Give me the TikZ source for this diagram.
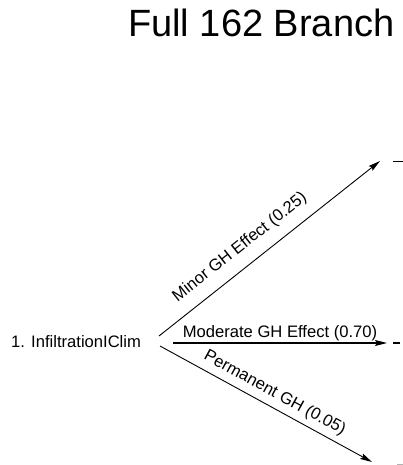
\documentclass[tikz,border=0pt]{standalone}
\usepackage{fontspec}
\setmainfont{Liberation Sans}
\usetikzlibrary{arrows.meta}
\begin{document}
\begin{tikzpicture}[x=1pt,y=-1pt,
  lbl/.style={font=\fontsize{16.6}{20}\selectfont, inner sep=0pt},
  branch/.style={line width=0.9pt, -{Stealth[length=12pt,width=6pt,inset=2pt]}},
  stub/.style={line width=1pt}]
\useasboundingbox (0,0) rectangle (403,465);
\node[anchor=base west, inner sep=0pt, font=\fontsize{38}{44}\selectfont] (title) at (128,37) {Full 162 Branch};
\node[anchor=base west, lbl] (root) at (11,347) {1. InfiltrationIClim};
% branch origins and tips
\coordinate (o1) at (159,336);
\coordinate (o2) at (173,343);
\coordinate (o3) at (160,346);
\coordinate (t1) at (380,161);
\coordinate (t2) at (387,343);
\coordinate (t3) at (372,462);
% cut-off stubs at the right edge
\coordinate (s1a) at (393,161);
\coordinate (s1b) at (403,161);
\coordinate (s2a) at (393,343);
\coordinate (s2b) at (400,343);
\coordinate (s3a) at (397,464);
\coordinate (s3b) at (403,464);
\draw[branch] (o1) -- node[lbl, sloped, above=11pt, pos=0.42] (l1) {Minor GH Effect (0.25)} (t1);
\draw[branch, line width=1.3pt] (o2) -- node[lbl, above=1.5pt, pos=0.5] (l2) {Moderate GH Effect (0.70)} (t2);
\draw[branch] (o3) -- node[lbl, sloped, above=5.5pt, pos=0.51] (l3) {Permanent GH (0.05)} (t3);
\draw[stub] (s1a) -- (s1b);
\draw[stub, line width=1.3pt] (s2a) -- (s2b);
\draw[stub, gray!60] (s3a) -- (s3b);
\end{tikzpicture}
\end{document}
